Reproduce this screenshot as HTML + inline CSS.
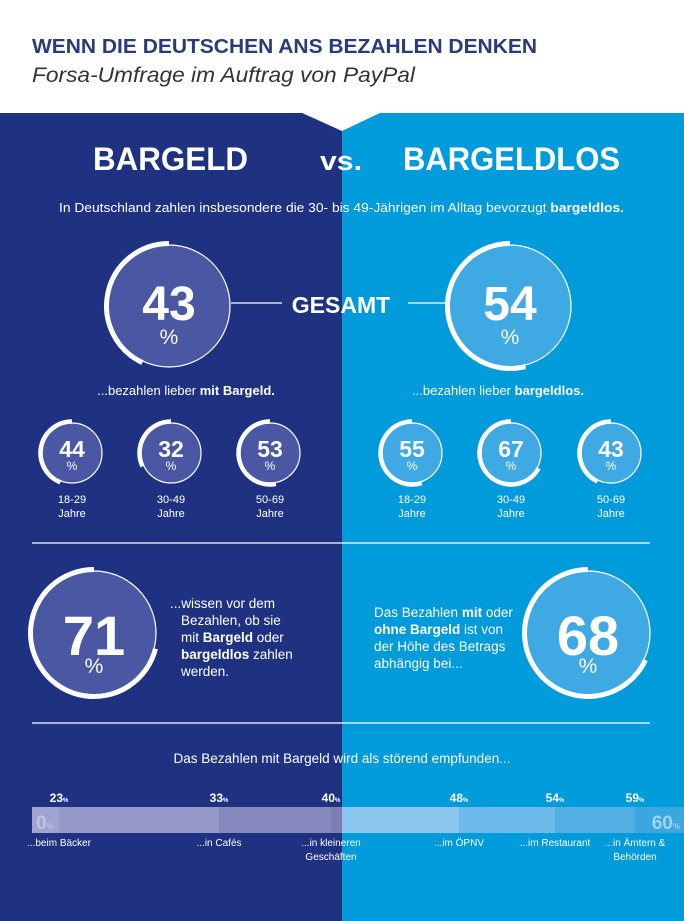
<!DOCTYPE html>
<html><head><meta charset="utf-8"><style>
html,body{margin:0;padding:0;background:#fff}
svg{display:block}
text{font-family:"Liberation Sans Narrow","Liberation Sans",sans-serif}
</style></head><body>
<svg id="chart" width="684" height="921" viewBox="0 0 684 921" xmlns="http://www.w3.org/2000/svg">
<rect x="0" y="0" width="684" height="921" fill="#fff"/>
<rect x="0" y="113" width="342" height="808" fill="#1f3282"/>
<rect x="342" y="113" width="342" height="808" fill="#009bdb"/>
<polygon points="300,112 382,112 342,131" fill="#fff"/>
<text x="32" y="53" font-size="20" font-weight="bold" fill="#2a3a7c" textLength="505" lengthAdjust="spacingAndGlyphs">WENN DIE DEUTSCHEN ANS BEZAHLEN DENKEN</text>
<text x="32" y="82" font-size="21" font-style="italic" fill="#333" textLength="383" lengthAdjust="spacingAndGlyphs">Forsa-Umfrage im Auftrag von PayPal</text>
<text x="93" y="170" font-size="32" font-weight="bold" fill="#fff" textLength="155" lengthAdjust="spacingAndGlyphs">BARGELD</text>
<text x="320" y="170" font-size="27" font-weight="bold" fill="#fff" textLength="42" lengthAdjust="spacingAndGlyphs">vs.</text>
<text x="403" y="170" font-size="32" font-weight="bold" fill="#fff" textLength="217" lengthAdjust="spacingAndGlyphs">BARGELDLOS</text>
<text x="59" y="212" font-size="13" fill="#fff" textLength="565" lengthAdjust="spacingAndGlyphs">In Deutschland zahlen insbesondere die 30- bis 49-Jährigen im Alltag bevorzugt <tspan font-weight="bold">bargeldlos.</tspan></text>
<text x="341" y="313" font-size="23" font-weight="bold" fill="#fff" text-anchor="middle">GESAMT</text>
<line x1="231" y1="303" x2="282" y2="303" stroke="#fff" stroke-width="1.2"/>
<line x1="408" y1="303" x2="449" y2="303" stroke="#fff" stroke-width="1.2"/>
<text x="186" y="395" font-size="13" fill="#fff" text-anchor="middle">...bezahlen lieber <tspan font-weight="bold">mit Bargeld.</tspan></text>
<text x="498" y="395" font-size="13" fill="#fff" text-anchor="middle">...bezahlen lieber <tspan font-weight="bold">bargeldlos.</tspan></text>
<line x1="32" y1="543" x2="650" y2="543" stroke="#fff" stroke-width="1.2"/>
<line x1="32" y1="723" x2="650" y2="723" stroke="#fff" stroke-width="1.2"/>
<text x="170" y="608" font-size="13.5" fill="#fff">
<tspan x="170" y="608">...wissen vor dem</tspan><tspan x="181" y="625">Bezahlen, ob sie</tspan><tspan x="181" y="642"><tspan>mit </tspan><tspan font-weight="bold">Bargeld</tspan> oder</tspan><tspan x="181" y="659"><tspan font-weight="bold">bargeldlos</tspan> zahlen</tspan><tspan x="181" y="676">werden.</tspan></text>
<text x="374" y="617" font-size="13.5" fill="#fff">
<tspan x="374" y="617">Das Bezahlen <tspan font-weight="bold">mit</tspan> oder</tspan><tspan x="374" y="634"><tspan font-weight="bold">ohne Bargeld</tspan> ist von</tspan><tspan x="374" y="651">der Höhe des Betrags</tspan><tspan x="374" y="668">abhängig bei...</tspan></text>
<text x="342" y="763" font-size="13.5" fill="#fff" text-anchor="middle">Das Bezahlen mit Bargeld wird als störend empfunden...</text>
<g id="rings"></g>
<g id="bars"></g>
</svg>
<script>
// Ring data
const ringLabels = ["43","54","44","32","53","55","67","43","71","68"];
const ringValues = [43,54,44,32,53,55,67,43,71,68];
const ringNames = ["gesamt-bargeld","gesamt-bargeldlos","bargeld-18-29","bargeld-30-49","bargeld-50-69","bargeldlos-18-29","bargeldlos-30-49","bargeldlos-50-69","wissen-vorher","betrag-abhaengig"];
const ringAges = ["","","18-29","30-49","50-69","18-29","30-49","50-69","",""];
// Bar chart data
const barCategories = ["...beim Bäcker","...in Cafés","...in kleineren|Geschäften","...im ÖPNV","...im Restaurant","...in Ämtern &|Behörden"];
const barValues = [23,33,40,48,54,59];
const barTickStart = 0;
const barTickEnd = 60;

const NS="http://www.w3.org/2000/svg";
function mk(tag,attrs,parent){const e=document.createElementNS(NS,tag);for(const k in attrs)e.setAttribute(k,attrs[k]);parent.appendChild(e);return e;}
const rings=document.getElementById('rings');
const layout=[[169,306,61,'big'],[510,306,61,'big'],[72,453,30,'s'],[171,453,30,'s'],[270,453,30,'s'],[412,453,30,'s'],[511,453,30,'s'],[611,453,30,'s'],[94,633,62,'big'],[588,633,62,'big']];
function pt(cx,cy,r,a){return [cx+r*Math.sin(a),cy-r*Math.cos(a)];}
ringValues.forEach((v,i)=>{
  const [cx,cy,r,sz]=layout[i];
  const left=cx<342;
  const g=mk('g',{},rings);
  
  
  const c=mk('circle',{cx:cx,cy:cy,r:r,fill:left?'#4a58a3':'#3fa9e3',stroke:'#fff','stroke-width':1.2},g);
  
  
  const ang=-v/100*2*Math.PI;
  const [x1,y1]=pt(cx,cy,r+1.5,0);const [x2,y2]=pt(cx,cy,r+1.5,ang);
  const large=v>50?1:0;
  const p=mk('path',{d:`M${x1},${y1} A${r+1.5},${r+1.5} 0 ${large} 0 ${x2},${y2}`,fill:'none',stroke:'#fff','stroke-width':sz==='big'?5:4.5},g);
  
  
  const big=sz==='big';
  const t=mk('text',{x:cx,y:big?cy+14+(i>=8?8:0):cy+4,'font-size':big?(i>=8?56:48):23,'font-weight':'bold',fill:'#fff','text-anchor':'middle'},g);
  t.textContent=ringLabels[i];
  
  
  const pc=mk('text',{x:cx,y:big?cy+(i>=8?40:38):cy+17,'font-size':big?21:12,fill:'#fff','text-anchor':'middle'},g);
  pc.textContent='%';
  
  
  if(ringAges[i]){
    const a=mk('text',{x:cx,y:cy+50,'font-size':11,fill:'#fff','text-anchor':'middle'},g);
    a.textContent=ringAges[i];
    
    
    const j=mk('text',{x:cx,y:cy+64,'font-size':11,fill:'#fff','text-anchor':'middle'},g);
    j.textContent='Jahre';
    
    
  }
});
// bars
const bars=document.getElementById('bars');
function xs(v){return 16*v-309;}
const barTop=807,barH=26,barLeft=32,barRight=684;
const leftCols=['#a1a4d1','#9598c8','#8689bd','#7b7db3'];
const rightCols=['#8ac6ee','#6dbbea','#53afe3','#3ca6df'];
let edges=[barLeft].concat(barValues.map(xs)).concat([barRight]);
const segs=[];
for(let i=0;i<edges.length-1;i++){
  let a=edges[i],b=edges[i+1];
  if(a<342&&b>342){segs.push([a,342,'L']);segs.push([342,b,'R']);}
  else segs.push([a,b,a<342?'L':'R']);
}
let li=0,ri=0;
segs.forEach(s=>{
  const col=s[2]==='L'?leftCols[Math.min(li++,3)]:rightCols[Math.min(ri++,3)];
  const r=mk('rect',{x:s[0],y:barTop,width:s[1]-s[0],height:barH,fill:col},bars);
  
  
});
const z=mk('text',{x:36,y:829,'font-size':19,'font-weight':'bold',fill:'#c0c3e0'},bars);
z.innerHTML=barTickStart+'<tspan font-size="8">%</tspan>';


const e=mk('text',{x:680,y:829,'font-size':19,'font-weight':'bold',fill:'#9fd3f2','text-anchor':'end'},bars);
e.innerHTML=barTickEnd+'<tspan font-size="8">%</tspan>';


barValues.forEach((v,i)=>{
  const x=xs(v);
  const t=mk('text',{x:x,y:802,'font-size':12,'font-weight':'bold',fill:'#fff','text-anchor':'middle'},bars);
  t.innerHTML=v+'<tspan font-size="6">%</tspan>';
  
  
  const lines=barCategories[i].split('|');
  lines.forEach((ln,k)=>{
    const c=mk('text',{x:x,y:846+k*14,'font-size':10,fill:'#fff','text-anchor':'middle'},bars);
    c.textContent=ln;
    
    
  });
});
</script>
</body></html>
